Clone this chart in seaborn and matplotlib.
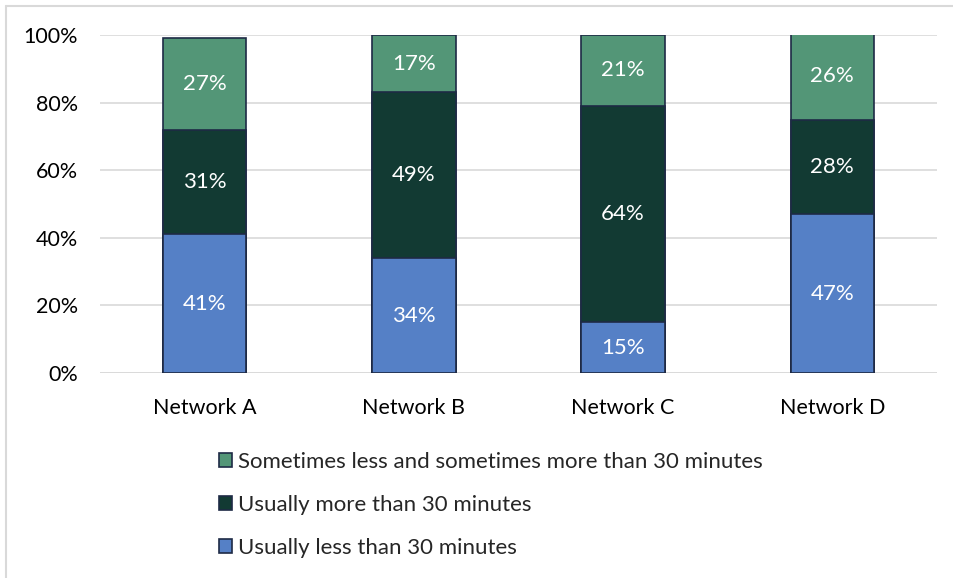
import matplotlib
matplotlib.use("Agg")
import matplotlib.pyplot as plt
from matplotlib.lines import Line2D
from matplotlib.patches import Patch
import numpy as np
import pandas as pd
import seaborn as sns

networks = ["Network A", "Network B", "Network C", "Network D"]
usually_less = [41, 34, 15, 47]
usually_more = [31, 49, 64, 28]
sometimes = [27, 17, 21, 26]
series_names = [
    "Usually less than 30 minutes",
    "Usually more than 30 minutes",
    "Sometimes less and sometimes more than 30 minutes",
]
series_values = [usually_less, usually_more, sometimes]
colors = ["#5580C6", "#123A33", "#539677"]
edge = "#1E2A45"

sns.set_theme(style="white")
plt.rcParams["font.family"] = ["Lato", "DejaVu Sans"]

fig = plt.figure(figsize=(9.54, 5.78), dpi=100)
ax = fig.add_axes([100 / 954, 1 - 373 / 578, 837 / 954, 338 / 578])

# stacked bars: draw cumulative totals from the top layer down
cum = np.cumsum(np.array(series_values), axis=0)
for i in range(len(series_values) - 1, -1, -1):
    df = pd.DataFrame({"network": networks, "value": cum[i]})
    sns.barplot(data=df, x="network", y="value", color=colors[i], width=0.4,
                edgecolor=edge, linewidth=1.2, saturation=1, ax=ax, zorder=3)

# value labels centred in each segment
for i, vals in enumerate(series_values):
    base = cum[i] - np.array(vals)
    for j, v in enumerate(vals):
        ax.text(j, base[j] + v / 2, f"{v}%", ha="center", va="center",
                color="white", fontsize=16, zorder=4)

ax.set_ylim(0, 100)
ax.set_xlim(-0.5, 3.5)
ax.set_yticks(range(0, 101, 20))
ax.set_yticklabels([f"{t}%" for t in range(0, 101, 20)])
ax.yaxis.grid(True, color="#D9D9D9", linewidth=1.2, zorder=0)
ax.set_axisbelow(True)
for s in ax.spines.values():
    s.set_visible(False)
ax.axhline(0, color="#D9D9D9", linewidth=1.2, zorder=2)
ax.set_xlabel("")
ax.set_ylabel("")
ax.tick_params(axis="both", length=0, labelsize=15.5, labelcolor="#000000")
ax.tick_params(axis="y", pad=16)
ax.tick_params(axis="x", pad=18)

handles = [Patch(facecolor=colors[i], edgecolor=edge, linewidth=1.2, label=series_names[i])
           for i in range(len(series_names) - 1, -1, -1)]
fig.legend(handles=handles, loc="upper left", bbox_to_anchor=(210 / 954, 1 - 443 / 578),
           frameon=False, fontsize=16, handlelength=0.6, handleheight=0.6,
           handletextpad=0.27, labelspacing=1.04, borderaxespad=0)

# light frame on the top and left edges of the chart area
fig.add_artist(Line2D([6 / 954, 6 / 954], [0, 1 - 6 / 578], transform=fig.transFigure,
                      color="#D9D9D9", linewidth=1.5))
fig.add_artist(Line2D([6 / 954, 1], [1 - 6 / 578, 1 - 6 / 578], transform=fig.transFigure,
                      color="#D9D9D9", linewidth=1.5))

fig.savefig("out.png", dpi=100, facecolor="white")
